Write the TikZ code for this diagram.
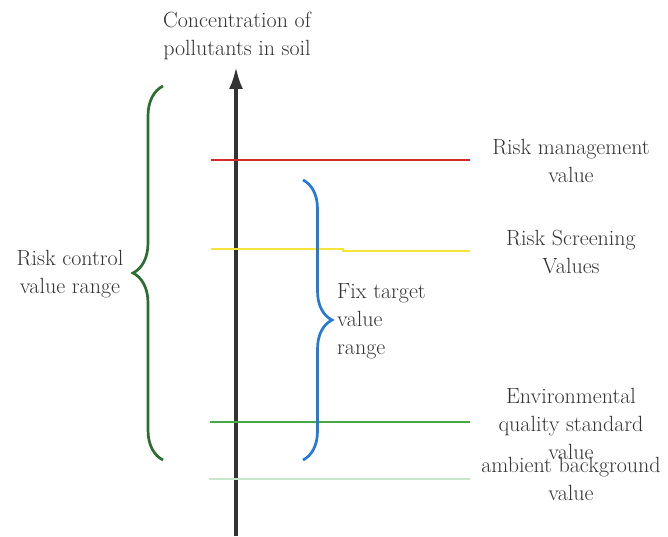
\documentclass[tikz,border=0pt]{standalone}
\usepackage{tikz}
\usetikzlibrary{arrows.meta,positioning,decorations.pathreplacing}

\definecolor{axisgray}{HTML}{333333}
\definecolor{txtgray}{HTML}{333333}
\definecolor{riskred}{HTML}{D42A2A}
\definecolor{screenyellow}{HTML}{F7E43A}
\definecolor{qualgreen}{HTML}{45A845}
\definecolor{ambgreen}{HTML}{C9E6CB}
\definecolor{bracegreen}{HTML}{2C6E30}
\definecolor{braceblue}{HTML}{2479DD}

\begin{document}
\begin{tikzpicture}[x=1pt,y=1pt]
        \tikzstyle{lbl}=[inner sep=0pt, align=center, text=txtgray, font=\fontsize{22}{28}\selectfont]
        \tikzstyle{level}=[line width=2.8pt]
        \tikzstyle{rangebrace}=[line width=2.7pt, decorate, decoration={brace, amplitude=30pt}]
        \useasboundingbox (0,0) rectangle (668,536);
        % axis
        \coordinate (O) at (236,0);
        \coordinate (top) at (236,469);
        \draw [-{Latex[length=22pt,width=14pt]}, line width=3.5pt, axisgray] (O) -- (top);
        \node[lbl] (title) at (237,500) {Concentration of\\pollutants in soil};
        % threshold lines
        \coordinate (redL) at (211,376);
        \coordinate (redR) at (470,376);
        \coordinate (yelL) at (211,287);
        \coordinate (yelM) at (343,287);
        \coordinate (yelN) at (343,285);
        \coordinate (yelR) at (470,285);
        \coordinate (grnL) at (210,114);
        \coordinate (grnR) at (470,114);
        \coordinate (ambL) at (209,57);
        \coordinate (ambR) at (470,57);
        \draw [level, riskred] (redL) -- (redR);
        \draw [level, screenyellow] (yelL) -- (yelM) -- (yelN) -- (yelR);
        \draw [level, qualgreen] (grnL) -- (grnR);
        \draw [level, ambgreen] (ambL) -- (ambR);
        \node[lbl] (mgmt) at (571,375) {Risk management\\value};
        \node[lbl] (screen) at (571,284) {Risk Screening\\Values};
        \node[lbl] (quality) at (571,112) {Environmental\\quality standard\\value};
        \node[lbl] (ambient) at (571,57) {ambient background\\value};
        % ranges
        \coordinate (ctrlB) at (163,76);
        \coordinate (ctrlT) at (163,450);
        \coordinate (fixT) at (303,356);
        \coordinate (fixB) at (303,76);
        \draw [rangebrace, bracegreen] (ctrlB) -- (ctrlT);
        \draw [rangebrace, braceblue, decoration={amplitude=29pt}] (fixT) -- (fixB);
        \node[lbl] (ctrl) at (70,262) {Risk control\\value range};
        \node[lbl, align=left, anchor=west] (fix) at (337,215) {Fix target\\value\\range};
      \end{tikzpicture}
\end{document}
